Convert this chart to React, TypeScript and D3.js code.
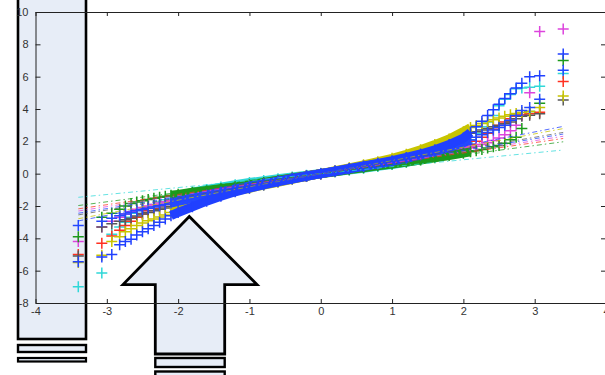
import React, { useEffect, useRef } from 'react';
import * as d3 from 'd3';

// theoretical normal quantiles (x of the QQ plot)
const qx = [-3.40, -3.07, -2.93, -2.82, -2.74, -2.66, -2.58, -2.50, -2.42, -2.34, -2.26, -2.18, -2.10, -2.00,
  -1.80, -1.60, -1.40, -1.20, -1.00, -0.80, -0.60, -0.40, -0.20, 0,
  0.20, 0.40, 0.60, 0.80, 1.00, 1.20, 1.40, 1.60, 1.80,
  2.00, 2.10, 2.18, 2.26, 2.34, 2.42, 2.50, 2.58, 2.66, 2.74, 2.82, 2.93, 3.07, 3.40];

// sample quantiles per series
const cyanY = [-7.0, -6.15, -3.75, -3.3, -3.0, -2.7, -2.45, -2.25, -2.05, -1.9, -1.75, -1.62, -1.5, -1.38,
  -1.15, -0.98, -0.83, -0.68, -0.55, -0.43, -0.31, -0.2, -0.1, 0.02,
  0.12, 0.22, 0.33, 0.45, 0.57, 0.7, 0.86, 1.05, 1.35,
  1.75, 2.1, 2.5, 2.9, 3.2, 3.6, 4.2, 4.6, 4.9, 5.25, 5.3, 5.35, 5.4, 6.2];
const redY = [-5.0, -4.3, -3.85, -3.5, -3.2, -2.95, -2.7, -2.5, -2.3, -2.15, -2.0, -1.9, -1.8, -1.68,
  -1.45, -1.24, -1.05, -0.88, -0.72, -0.57, -0.42, -0.28, -0.14, 0,
  0.14, 0.28, 0.42, 0.56, 0.7, 0.86, 1.02, 1.2, 1.4,
  1.65, 1.8, 2.0, 2.25, 2.5, 2.75, 3.0, 3.2, 3.4, 3.55, 3.65, 3.7, 3.8, 5.7];
const magentaY = [-4.2, -3.3, -2.95, -2.7, -2.5, -2.35, -2.2, -2.1, -2.0, -1.9, -1.82, -1.74, -1.66, -1.58,
  -1.4, -1.22, -1.05, -0.88, -0.72, -0.57, -0.42, -0.28, -0.14, 0,
  0.13, 0.27, 0.4, 0.54, 0.68, 0.83, 0.98, 1.14, 1.32,
  1.5, 1.6, 1.7, 1.8, 1.92, 2.05, 2.2, 2.4, 2.65, 3.0, 3.6, 5.0, 8.8, 8.95];
const greenY = [-3.9, -2.7, -2.45, -2.2, -2.0, -1.85, -1.75, -1.67, -1.6, -1.52, -1.46, -1.4, -1.34, -1.28,
  -1.15, -1.04, -0.92, -0.8, -0.68, -0.54, -0.41, -0.27, -0.14, 0,
  0.12, 0.25, 0.37, 0.49, 0.6, 0.72, 0.85, 0.98, 1.12,
  1.27, 1.35, 1.42, 1.5, 1.58, 1.66, 1.75, 1.88, 2.1, 2.25, 2.8, 3.85, 4.35, 7.0];
const grayY = [-5.1, -3.3, -3.1, -2.95, -2.85, -2.75, -2.62, -2.5, -2.4, -2.3, -2.2, -2.12, -2.03, -1.92,
  -1.68, -1.45, -1.22, -1.02, -0.84, -0.66, -0.49, -0.32, -0.16, 0,
  0.16, 0.33, 0.5, 0.68, 0.88, 1.1, 1.36, 1.65, 1.98,
  2.35, 2.5, 2.6, 2.7, 2.8, 2.9, 2.98, 3.08, 3.2, 3.4, 3.55, 3.62, 3.7, 4.55];
const yellowY = [-5.5, -5.05, -4.2, -3.9, -3.6, -3.4, -3.2, -3.05, -2.92, -2.8, -2.68, -2.55, -2.4, -2.2,
  -1.85, -1.55, -1.3, -1.08, -0.9, -0.71, -0.53, -0.35, -0.17, 0,
  0.18, 0.36, 0.55, 0.74, 0.95, 1.2, 1.48, 1.8, 2.15,
  2.6, 2.85, 2.98, 3.1, 3.22, 3.34, 3.45, 3.55, 3.65, 3.72, 3.78, 3.85, 4.1, 4.8];
const blueAY = [-3.2, -2.95, -2.75, -2.6, -2.5, -2.4, -2.3, -2.22, -2.14, -2.06, -1.98, -1.9, -1.82, -1.72,
  -1.52, -1.32, -1.13, -0.95, -0.78, -0.62, -0.46, -0.3, -0.15, 0,
  0.15, 0.3, 0.45, 0.6, 0.76, 0.95, 1.15, 1.38, 1.62,
  1.92, 2.08, 2.25, 2.4, 2.55, 2.7, 2.85, 3.0, 3.3, 3.6, 3.9, 4.1, 4.6, 6.4];
const blueBY = [-5.45, -5.15, -5.0, -4.4, -4.2, -4.05, -3.8, -3.6, -3.4, -3.2, -3.0, -2.8, -2.6, -2.4,
  -2.05, -1.7, -1.4, -1.12, -0.9, -0.7, -0.5, -0.33, -0.16, 0,
  0.16, 0.32, 0.48, 0.64, 0.8, 1.0, 1.22, 1.48, 1.8,
  2.2, 2.55, 2.9, 3.25, 3.6, 3.95, 4.3, 4.65, 4.95, 5.3, 5.6, 6.0, 6.05, 7.4];

const seriesY = [cyanY, redY, magentaY, greenY, grayY, yellowY, blueAY, blueBY];
const seriesColors = ['#30d8d8', '#ff3020', '#dd44dd', '#1c9a1c', '#585858', '#c8c400', '#2448ff', '#2040ff'];
const refSlopes = [0.43, 0.64, 0.68, 0.58, 0.75, 0.82, 0.72, 0.86];

const xTicks = [-4, -3, -2, -1, 0, 1, 2, 3, 4];
const yTicks = [-8, -6, -4, -2, 0, 2, 4, 6, 8, 10];

const App: React.FC = () => {
  const svgRef = useRef<SVGSVGElement>(null);

  useEffect(() => {
    if (!svgRef.current) return;
    const svg = d3.select(svgRef.current);
    svg.selectAll('*').remove();

    const x = d3.scaleLinear().domain([-4, 4]).range([35.5, 606]);
    const y = d3.scaleLinear().domain([-8, 10]).range([303, 12]);

    // overlay shapes (sit underneath the plot)
    const fill = '#e7edf7';
    const ann = svg.append('g').attr('fill', fill).attr('stroke', '#000');
    ann.append('rect').attr('x', 18).attr('y', -5).attr('width', 68).attr('height', 344).attr('stroke-width', 2.6);
    ann.append('rect').attr('x', 18).attr('y', 345).attr('width', 68).attr('height', 7).attr('stroke-width', 2.4);
    ann.append('rect').attr('x', 18).attr('y', 358).attr('width', 68).attr('height', 3.5).attr('stroke-width', 2.2);
    ann.append('path')
      .attr('d', 'M189.3,216.5L123,284.6H155.3V354H224.7V284.6H257Z')
      .attr('stroke-width', 2.8).attr('stroke-linejoin', 'miter');
    ann.append('rect').attr('x', 155.3).attr('y', 358).attr('width', 69.4).attr('height', 9).attr('stroke-width', 2.4);
    ann.append('rect').attr('x', 155.3).attr('y', 371.5).attr('width', 69.4).attr('height', 10).attr('stroke-width', 2.4);

    // axes box
    const font = 'Liberation Sans, Arial, Helvetica, sans-serif';
    const styleAxis = (g: any) => {
      g.attr('font-family', font).attr('font-size', 11);
      g.selectAll('path').attr('stroke', '#222');
      g.selectAll('line').attr('stroke', '#222');
      g.selectAll('text').attr('fill', '#333');
    };
    svg.append('g').attr('transform', `translate(0,${y(-8)})`)
      .call(d3.axisBottom(x).tickValues(xTicks).tickSizeInner(-4).tickSizeOuter(0).tickPadding(4).tickFormat(d => String(d)))
      .call(styleAxis);
    svg.append('g').attr('transform', `translate(0,${y(10)})`)
      .call(d3.axisTop(x).tickValues(xTicks).tickSizeInner(-4).tickSizeOuter(0).tickFormat(() => ''))
      .call(styleAxis);
    svg.append('g').attr('transform', `translate(${x(-4)},0)`)
      .call(d3.axisLeft(y).tickValues(yTicks).tickSizeInner(-5).tickSizeOuter(0).tickPadding(7).tickFormat(d => String(d)))
      .call(styleAxis);
    svg.append('g').attr('transform', `translate(${x(4)},0)`)
      .call(d3.axisRight(y).tickValues(yTicks).tickSizeInner(-5).tickSizeOuter(0).tickFormat(() => ''))
      .call(styleAxis);

    // points
    const plus = 'M-5.5,0H5.5M0,-5.5V5.5';
    const band = d3.line<number>()
      .defined((_, i) => Math.abs(qx[i]) <= 2.1)
      .x((_, i) => x(qx[i]))
      .y(d => y(d));

    seriesY.forEach((vals, s) => {
      const g = svg.append('g');
      g.append('path')
        .datum(vals)
        .attr('fill', 'none')
        .attr('stroke', seriesColors[s])
        .attr('stroke-width', 9)
        .attr('d', band);
      g.selectAll('.pt')
        .data(vals)
        .enter()
        .append('path')
        .attr('class', 'pt')
        .attr('transform', (d, i) => `translate(${x(qx[i])},${y(d)})`)
        .attr('d', plus)
        .attr('stroke', seriesColors[s])
        .attr('stroke-width', 1.5)
        .attr('fill', 'none');
    });

    // reference lines
    const ends = [qx[0], qx[qx.length - 1]];
    refSlopes.forEach((k, s) => {
      svg.append('path')
        .datum(ends)
        .attr('fill', 'none')
        .attr('stroke', seriesColors[s])
        .attr('stroke-width', 1)
        .attr('stroke-opacity', 0.75)
        .attr('stroke-dasharray', '5,3,1.5,3')
        .attr('d', d3.line<number>().x(d => x(d)).y(d => y(k * d)));
    });
  }, []);

  return (
    <div style={{ position: 'absolute', left: 0, top: 0 }}>
      <svg ref={svgRef} width={605} height={375} style={{ display: 'block' }}></svg>
    </div>
  );
};

export default App;
